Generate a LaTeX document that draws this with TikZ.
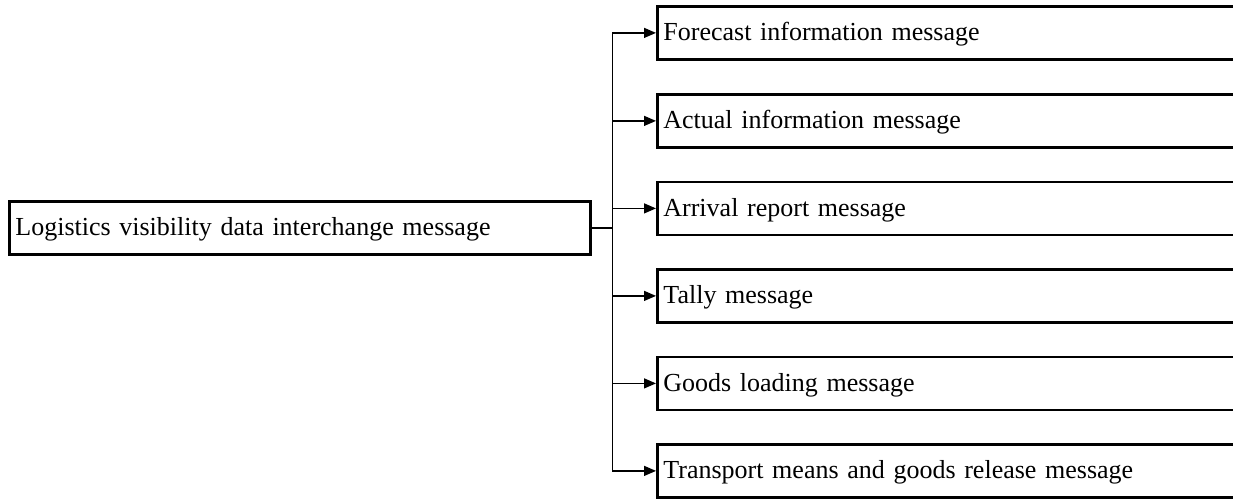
\documentclass[tikz,border=0pt]{standalone}
\usepackage{fontspec}
\setmainfont{Liberation Serif}
\usetikzlibrary{arrows.meta}
\begin{document}
\begin{tikzpicture}[x=1pt,y=-1pt,
  box/.style={draw,line width=2.8pt,rectangle,minimum height=53pt,inner xsep=6pt,inner ysep=0pt,
    text height=19pt,text depth=3pt,
    font=\fontsize{26}{29}\selectfont,align=left,anchor=north west},
  conn/.style={line width=1.3pt},
  arr/.style={conn,-{Triangle[length=12pt,width=10pt]}}]
\useasboundingbox (0,0) rectangle (1233,500);
\clip (0,0) rectangle (1233,500);
\node[box,text width=569pt] (L) at (8,200) {Logistics visibility data interchange message};
\node[box,text width=600pt] (B1) at (656,5) {Forecast information message};
\node[box,text width=600pt] (B2) at (656,93) {Actual information message};
\node[box,text width=600pt] (B3) at (656,180.5) {Arrival report message};
\node[box,text width=600pt] (B4) at (656,268) {Tally message};
\node[box,text width=600pt] (B5) at (656,355.5) {Goods loading message};
\node[box,text width=600pt] (B6) at (656,443) {Transport means and goods release message};
\coordinate (J) at ([xshift=21pt]L.east);
\draw[conn] (L.east) -- (J);
\foreach \b in {B1,B2,B3,B4,B5,B6}{
  \draw[arr] (J) |- (\b.west);
}
\end{tikzpicture}
\end{document}
